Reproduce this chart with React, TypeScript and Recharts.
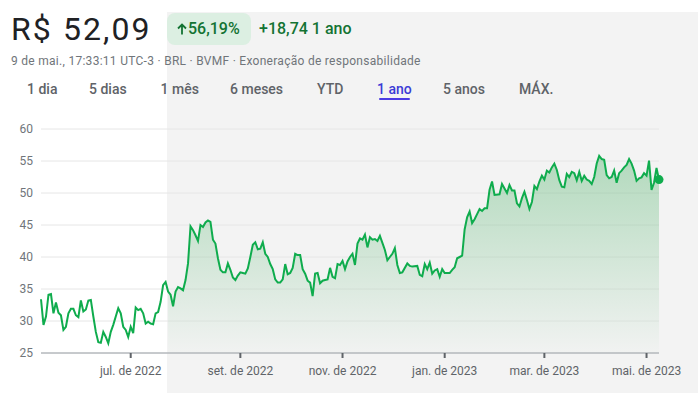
import React from 'react';
import { ComposedChart, Line, Area, XAxis, YAxis, CartesianGrid, ReferenceDot } from 'recharts';

// trading-day index (0 = 9 May 2022) and closing price in R$
const days = [
  0, 1, 2, 3, 4, 5, 6, 7, 8, 9, 10, 11, 12, 13, 14, 15, 16, 17, 18, 19,
  20, 21, 22, 23, 24, 25, 26, 27, 28, 29, 30, 31, 32, 33, 34, 35, 36, 37, 38, 39,
  40, 41, 42, 43, 44, 45, 46, 47, 48, 49, 50, 51, 52, 53, 54, 55, 56, 57, 58, 59,
  60, 61, 62, 63, 64, 65, 66, 67, 68, 69, 70, 71, 72, 73, 74, 75, 76, 77, 78, 79,
  80, 81, 82, 83, 84, 85, 86, 87, 88, 89, 90, 91, 92, 93, 94, 95, 96, 97, 98, 99,
  100, 101, 102, 103, 104, 105, 106, 107, 108, 109, 110, 111, 112, 113, 114, 115, 116, 117, 118, 119,
  120, 121, 122, 123, 124, 125, 126, 127, 128, 129, 130, 131, 132, 133, 134, 135, 136, 137, 138, 139,
  140, 141, 142, 143, 144, 145, 147, 148, 149, 151, 152, 153, 154, 155, 156, 157, 158, 159,
  160, 161, 162, 164, 165, 166, 167, 168, 169, 170, 171, 172, 173, 174, 175, 176, 177, 178, 179,
  180, 181, 182, 184, 185, 186, 187, 188, 189, 190, 191, 192, 193, 194, 195, 196, 197, 198, 199,
  200, 201, 202, 203, 204, 205, 206, 207, 208, 209, 210, 211, 212, 213, 214, 215, 216, 217, 218, 219,
  220, 221, 222, 223, 224, 225, 226, 227, 228, 229, 230, 231, 232, 233, 234, 235, 236, 237, 238, 239,
  240, 241, 242, 243, 244, 245, 246, 247, 248,
];

const prices = [
  33.4, 29.4, 30.7, 34.1, 34.2, 31.2, 32.9, 31.3, 30.9, 28.6, 29.1, 31.2, 31.9, 31.9, 30.9, 30.6, 33.2, 31.5, 31.8, 33.2,
  33.3, 30.7, 28.3, 26.7, 26.6, 28.3, 27.5, 26.5, 28.3, 29.4, 30.7, 32.0, 31.2, 29.1, 28.6, 27.5, 29.1, 28.1, 32.1, 31.7,
  31.9, 31.2, 29.6, 29.9, 29.6, 29.5, 31.2, 31.4, 33.0, 35.6, 36.1, 34.6, 34.1, 32.3, 34.6, 35.3, 35.1, 34.8, 36.4, 39.0,
  44.8, 44.2, 43.4, 42.5, 45.0, 44.7, 45.4, 45.7, 45.5, 42.7, 42.1, 39.8, 38.0, 37.6, 37.6, 39.0, 38.0, 36.8, 36.4, 37.1,
  37.6, 37.5, 37.4, 38.2, 40.0, 41.9, 42.3, 41.2, 41.3, 42.3, 40.5, 40.0, 38.9, 38.1, 36.5, 36.0, 36.0, 36.5, 38.9, 37.3,
  37.5, 38.3, 40.5, 40.3, 40.3, 38.1, 37.4, 36.3, 36.0, 33.9, 37.4, 37.5, 35.9, 36.3, 36.4, 36.5, 38.3, 36.9, 36.7, 38.9,
  38.75, 39.4, 38.1, 39.3, 40.0, 40.5, 38.75, 42.1, 42.9, 42.7, 43.5, 41.5, 43.1, 42.7, 42.8, 42.5, 43.3, 42.2, 41.1, 39.5,
  40.0, 40.5, 41.4, 38.75, 37.5, 37.6, 39.0, 38.6, 38.5, 38.6, 37.2, 37.0, 38.9, 38.1, 39.1, 37.4, 37.9, 38.1,
  36.9, 38.1, 37.5, 37.5, 38.0, 38.4, 39.8, 40.0, 40.2, 44.3, 46.2, 47.1, 45.3, 45.9, 46.7, 47.5, 47.2, 47.6, 47.6,
  50.5, 51.8, 49.7, 49.8, 51.4, 50.7, 50.0, 51.25, 50.4, 50.4, 48.4, 47.9, 49.2, 50.2, 48.9, 47.5, 48.6, 51.1, 50.6,
  51.8, 52.7, 52.1, 53.5, 53.2, 54.0, 54.6, 53.6, 52.0, 51.0, 50.9, 53.0, 52.5, 53.3, 53.1, 52.0, 53.3, 51.9, 52.7, 52.1,
  51.9, 51.4, 52.5, 54.6, 55.8, 55.3, 55.2, 52.8, 52.3, 52.5, 53.5, 51.6, 53.1, 53.5, 54.0, 54.4, 55.3, 54.6, 53.5, 51.9,
  52.3, 52.45, 53.1, 52.7, 55.05, 50.5, 51.6, 53.9, 52.09,
];

const yTicks = [25, 30, 35, 40, 45, 50, 55, 60];
const monthTicks = [36, 80, 121, 162, 202, 243];
const monthLabels = ['jul. de 2022', 'set. de 2022', 'nov. de 2022', 'jan. de 2023', 'mar. de 2023', 'mai. de 2023'];
const highlightFrom = 51;
const lastDay = 248;
const lastPrice = 52.09;

const priceLabel = 'R$ 52,09';
const changePct = '56,19%';
const changeAbs = '+18,74 1 ano';
const subtitle = '9 de mai., 17:33:11 UTC-3 · BRL · BVMF · Exoneração de responsabilidade';
const tabs = ['1 dia', '5 dias', '1 mês', '6 meses', 'YTD', '1 ano', '5 anos', 'MÁX.'];
const tabLefts = [27, 89, 160.5, 230, 317, 377, 443, 519];
const activeTab = '1 ano';

const GREEN = '#0fac4d';
const TEXT_GREEN = '#137333';

const data = days.map((d, i) => ({
  d,
  v: prices[i],
  hv: d >= highlightFrom ? prices[i] : null,
}));

const labelFor = (v: number) => {
  const i = monthTicks.indexOf(v);
  return i >= 0 ? monthLabels[i] : '';
};

export default function App() {
  return (
    <div
      style={{
        position: 'absolute',
        left: 0,
        top: 0,
        width: 698,
        height: 393,
        background: '#ffffff',
        overflow: 'hidden',
        fontFamily: 'Roboto, sans-serif',
      }}
    >
      <div style={{ position: 'absolute', left: 167, top: 12, width: 531, height: 381, background: '#f3f3f3' }} />

      <div style={{ position: 'absolute', left: 11, top: 13, fontSize: 32, lineHeight: '32px', color: '#202124', letterSpacing: 2.1, whiteSpace: 'nowrap' }}>
        {priceLabel}
      </div>

      <div
        style={{
          position: 'absolute',
          left: 167,
          top: 13,
          width: 84,
          height: 32,
          borderRadius: 8,
          background: '#dcefe2',
        }}
      />
      <svg style={{ position: 'absolute', left: 177, top: 23 }} width={10} height={12} viewBox="0 0 10 12">
        <path d="M5 11.5 V1.5 M1 5.5 L5 1.5 L9 5.5" stroke={TEXT_GREEN} strokeWidth={1.8} fill="none" />
      </svg>
      <div style={{ position: 'absolute', left: 188, top: 21, fontSize: 16, lineHeight: '16px', color: TEXT_GREEN, fontWeight: 500, whiteSpace: 'nowrap' }}>
        {changePct}
      </div>
      <div style={{ position: 'absolute', left: 259, top: 21, fontSize: 16, lineHeight: '16px', color: TEXT_GREEN, fontWeight: 500, whiteSpace: 'nowrap' }}>
        {changeAbs}
      </div>

      <div style={{ position: 'absolute', left: 11, top: 55, fontSize: 12, lineHeight: '12px', color: '#70757a', letterSpacing: 0.28, whiteSpace: 'nowrap' }}>
        {subtitle}
      </div>

      {tabs.map((t, i) => (
        <div
          key={t}
          style={{
            position: 'absolute',
            left: tabLefts[i],
            top: 81.5,
            fontSize: 14,
            lineHeight: '14px',
            fontWeight: 500,
            color: t === activeTab ? '#3b3bd6' : '#5f6368',
            whiteSpace: 'nowrap',
          }}
        >
          {t}
        </div>
      ))}
      <div style={{ position: 'absolute', left: 378.5, top: 97.5, width: 31, height: 2.5, borderRadius: 2, background: '#4b3be4' }} />

      <div style={{ position: 'absolute', left: 0, top: 0 }}>
        <ComposedChart width={698} height={393} data={data} margin={{ top: 129, right: 39, bottom: 0, left: 0 }}>
          <defs>
            <linearGradient id="fillGrad" x1="0" y1="0" x2="0" y2="1">
              <stop offset="0%" stopColor="#34a853" stopOpacity={0.34} />
              <stop offset="100%" stopColor="#34a853" stopOpacity={0.01} />
            </linearGradient>
          </defs>
          <CartesianGrid horizontal vertical={false} stroke="#e6e6e6" />
          <XAxis
            type="number"
            dataKey="d"
            domain={[0, lastDay]}
            ticks={monthTicks}
            tickFormatter={labelFor}
            height={40}
            axisLine={{ stroke: '#9aa0a6' }}
            tickLine={{ stroke: '#5f6368', strokeWidth: 2 }}
            tickSize={5}
            tickMargin={8}
            tick={{ fontSize: 12, fill: '#5f6368' }}
            interval={0}
          />
          <YAxis
            type="number"
            domain={[25, 60]}
            ticks={yTicks}
            width={41}
            axisLine={false}
            tickLine={false}
            tick={{ fontSize: 12, fill: '#70757a' }}
            interval={0}
          />
          <Area
            type="linear"
            dataKey="hv"
            stroke="none"
            fill="url(#fillGrad)"
            fillOpacity={1}
            isAnimationActive={false}
            connectNulls={false}
            dot={false}
            activeDot={false}
          />
          <Line
            type="linear"
            dataKey="v"
            stroke={GREEN}
            strokeWidth={2}
            dot={false}
            activeDot={false}
            isAnimationActive={false}
          />
          <ReferenceDot x={lastDay} y={lastPrice} r={4.5} fill={GREEN} stroke="none" ifOverflow="visible" />
        </ComposedChart>
      </div>
    </div>
  );
}
